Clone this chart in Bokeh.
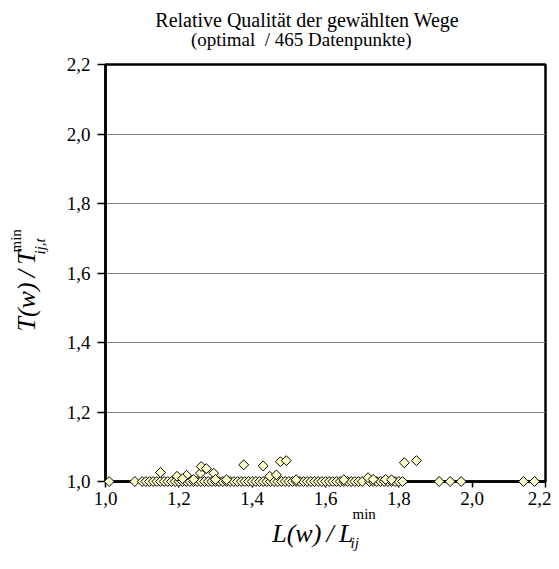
import numpy as np
from bokeh.plotting import figure
from bokeh.models import Range1d, FixedTicker, Label, ColumnDataSource
from bokeh.embed import file_html
from bokeh.resources import INLINE

# ---------------- data ----------------
title_line1 = "Relative Qualität der gewählten Wege"
title_line2 = "(optimal\u00a0 / 465 Datenpunkte)"
tick_values = [1.0, 1.2, 1.4, 1.6, 1.8, 2.0, 2.2]
tick_labels = ["1,0", "1,2", "1,4", "1,6", "1,8", "2,0", "2,2"]

# points lying on the optimum (y = 1.0)
base_x = [1.01, 1.08, 1.10, 1.11, 1.12, 1.13, 1.14, 1.15, 1.16, 1.17, 1.18, 1.19,
          1.20, 1.21, 1.22, 1.23, 1.24, 1.25, 1.26, 1.27, 1.28, 1.29, 1.30, 1.31,
          1.32, 1.33, 1.34, 1.35, 1.36, 1.37, 1.38, 1.39, 1.40, 1.41, 1.42, 1.43,
          1.44, 1.45, 1.46, 1.47, 1.48, 1.49, 1.50, 1.51, 1.52, 1.53, 1.54, 1.55,
          1.56, 1.57, 1.58, 1.59, 1.60, 1.61, 1.62, 1.63, 1.64, 1.65, 1.66, 1.67,
          1.68, 1.69, 1.70, 1.72, 1.73, 1.74, 1.75, 1.76, 1.77, 1.78, 1.79, 1.80,
          1.81, 1.91, 1.94, 1.97, 2.14, 2.17]
base_y = [1.0] * len(base_x)

# points slightly above the optimum
upper_x = [1.15, 1.195, 1.221, 1.259, 1.261, 1.275, 1.295, 1.377, 1.43, 1.448,
           1.466, 1.477, 1.493, 1.716, 1.764, 1.815, 1.848,
           1.21, 1.24, 1.30, 1.33, 1.52, 1.65, 1.73, 1.78]
upper_y = [1.026, 1.015, 1.018, 1.024, 1.043, 1.037, 1.024, 1.048, 1.045, 1.015,
           1.019, 1.057, 1.060, 1.011, 1.006, 1.054, 1.060,
           1.008, 1.006, 1.006, 1.005, 1.005, 1.005, 1.006, 1.005]

# ---------------- layout ----------------
W, H = 551, 561
FL, FR, FT, FB = 105, 545, 64, 481   # frame edges in figure pixels
X0, X1, Y0, Y1 = 1.0, 2.2, 1.0, 2.2
SHIFT = 0.38   # baseline correction, fraction of font size

def dx(px):
    return X0 + (px - FL) / (FR - FL) * (X1 - X0)

def dy(py):
    return Y1 - (py - FT) / (FB - FT) * (Y1 - Y0)

p = figure(width=W, height=H, output_backend="svg", toolbar_location=None,
           x_range=Range1d(X0, X1), y_range=Range1d(Y0, Y1),
           min_border_left=FL, min_border_right=W - FR,
           min_border_top=FT, min_border_bottom=H - FB)
p.background_fill_color = "white"
p.border_fill_color = "white"
p.outline_line_color = "black"
p.outline_line_width = 2.5

SERIF = "Liberation Serif"
for ax in (p.xaxis[0], p.yaxis[0]):
    ax.ticker = FixedTicker(ticks=tick_values)
    ax.major_label_overrides = {v: l for v, l in zip(tick_values, tick_labels)}
    ax.major_label_text_font = SERIF
    ax.major_label_text_font_size = "19px"
    ax.major_label_text_color = "black"
    ax.axis_line_color = "black"
    ax.axis_line_width = 2.5
    ax.major_tick_line_color = "black"
    ax.major_tick_line_width = 1.5
    ax.major_tick_in = 0
    ax.minor_tick_line_color = None
p.xaxis[0].major_tick_out = 6
p.xaxis[0].major_label_standoff = 4
p.yaxis[0].major_tick_out = 8
p.yaxis[0].major_label_standoff = 7

p.xgrid.grid_line_color = None
p.ygrid.grid_line_color = "#808080"
p.ygrid.grid_line_width = 1

src_base = ColumnDataSource(dict(x=base_x, y=base_y))
src_up = ColumnDataSource(dict(x=upper_x, y=upper_y))
for src in (src_base, src_up):
    r = p.scatter("x", "y", source=src, marker="square", angle=np.pi / 4, size=7,
                  fill_color="#FFFFCC", line_color="black", line_width=1)
    r.level = "overlay"

def add_label(place, px, py, text, size, italic=False, align="left", angle=0.0):
    s = SHIFT * size
    if angle:
        px = px - s
    else:
        py = py - s
    lab = Label(x=dx(px), y=dy(py), text=text, text_align=align,
                text_baseline="alphabetic", text_font=SERIF,
                text_font_style="italic" if italic else "normal",
                text_font_size=f"{size}px", text_color="black", angle=angle)
    p.add_layout(lab, place)

# titles
add_label("above", 306.7, 27, title_line1, 20, align="center")
add_label("above", 300.7, 46, title_line2, 19, align="center")

# x axis label: L(w) / L_ij^min  (pieces spread over side panels so the frame keeps its size)
add_label("below", 271.7, 543, "L(w)\u2009/\u2009L", 26, italic=True)
add_label("below", 352, 519, "min", 15)
add_label("above", 350, 548, "ij", 15, italic=True)

# y axis label: T(w) / T_ij,t^min (rotated)
add_label("left", 36, 331, "T(w)\u2009/\u2009T", 26, italic=True, angle=np.pi / 2)
add_label("left", 21, 252, "min", 15, angle=np.pi / 2)
add_label("left", 45, 254, "ij,t", 15, italic=True, angle=np.pi / 2)

open("out.html", "w").write(file_html(p, INLINE))
